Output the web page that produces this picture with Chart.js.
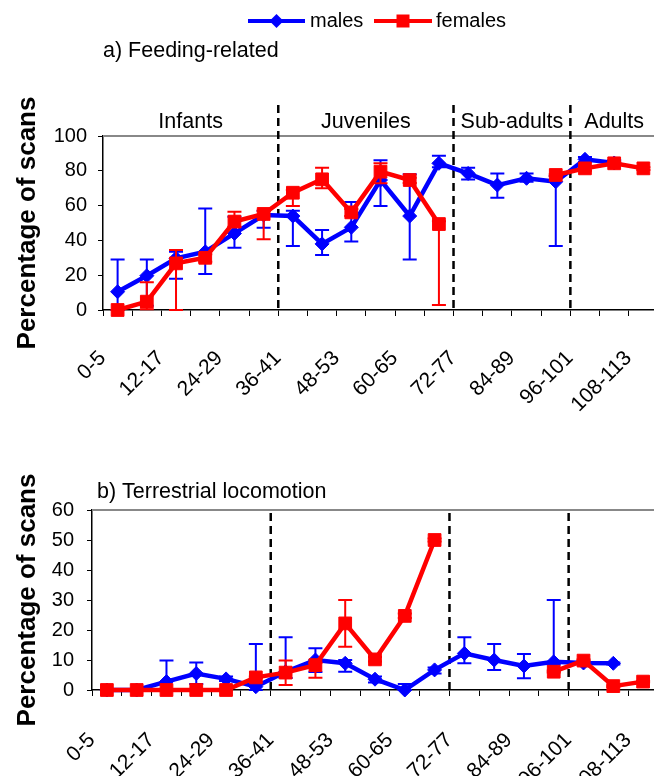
<!DOCTYPE html>
<html>
<head>
<meta charset="utf-8">
<script src="https://cdn.jsdelivr.net/npm/chart.js@4.4.0/dist/chart.umd.min.js"></script>
<style>
  html, body { margin: 0; padding: 0; background: #fff; overflow: hidden; }
  #wrap { position: relative; width: 654px; height: 776px; overflow: hidden; }
  canvas { position: absolute; left: 0; }
  #feedChart { top: 0; }
  #locoChart { top: 430px; }
</style>
</head>
<body>
<div id="wrap">
  <canvas id="feedChart" width="668" height="420"></canvas>
  <canvas id="locoChart" width="668" height="346"></canvas>
</div>
<script>
// age classes in months
const ageClasses = ['0-5', '6-11', '12-17', '18-23', '24-29', '30-35', '36-41', '42-47', '48-53', '54-59',
    '60-65', '66-71', '72-77', '78-83', '84-89', '90-95', '96-101', '102-107', '108-113'];
const stageNames = ['Infants', 'Juveniles', 'Sub-adults', 'Adults'];
const stageStarts = [0, 6, 12, 16];

// a) Feeding-related
const feedMales      = [10.5, 19.7, 29.7, 33.5, 44.0, 54.6, 54.0, 38.0, 47.5, 74.7, 54.0, 84.3, 78.5, 71.8, 75.7, 73.7, 86.6, 84.5, null];
const feedMalesHigh  = [29.0, 29.0, 33.5, 58.4, 53.6, 57.0, 57.0, 46.0, 62.0, 86.0, 78.0, 88.7, 81.8, 78.5, 78.5, 77.0, 88.0, 86.0, null];
const feedMalesLow   = [0.0, 2.5, 18.0, 20.7, 35.8, 47.3, 36.8, 31.6, 39.3, 59.8, 29.0, 82.0, 75.0, 64.5, 73.7, 36.8, 85.0, 83.0, null];
const feedFemales    = [0.0, 4.8, 26.8, 30.0, 50.8, 55.2, 67.4, 75.1, 56.1, 79.5, 74.7, 49.4, null, null, null, 77.6, 81.4, 84.3, 81.4];
const feedFemalesHigh = [0.0, 16.0, 34.5, 32.0, 56.5, 57.0, 69.0, 81.8, 58.0, 84.3, 76.0, 51.0, null, null, null, 78.0, 82.0, 85.0, 82.0];
const feedFemalesLow  = [0.0, 0.4, 0.0, 27.8, 47.9, 40.6, 59.8, 70.0, 54.0, 72.8, 73.0, 2.9, null, null, null, 77.0, 80.0, 83.5, 80.5];

// b) Terrestrial locomotion
const locoMales      = [0, 0, 2.8, 5.5, 3.7, 1.1, 6.1, 10.0, 8.9, 3.6, 0.0, 6.7, 12.2, 10.0, 8.0, 9.4, 9.0, 8.9, null];
const locoMalesHigh  = [0, 0, 9.8, 9.2, 4.5, 15.3, 17.6, 13.9, 10.0, 4.5, 2.0, 7.5, 17.6, 15.3, 12.0, 30.0, 9.5, 9.2, null];
const locoMalesLow   = [0, 0, 0.0, 2.0, 3.0, 0.0, 4.0, 6.0, 6.1, 2.5, 0.0, 5.5, 8.9, 6.7, 3.9, 8.5, 8.5, 8.5, null];
const locoFemales    = [0, 0, 0, 0, 0, 4.2, 5.8, 8.3, 22.2, 10.2, 24.7, 50.0, null, null, null, 6.1, 9.8, 1.3, 2.8];
const locoFemalesHigh = [0, 0, 0, 0, 0, 4.5, 9.8, 9.0, 30.0, 11.0, 25.5, 50.5, null, null, null, 6.5, 10.2, 1.6, 3.0];
const locoFemalesLow  = [0, 0, 0, 0, 0, 4.0, 1.7, 4.1, 14.4, 9.5, 24.0, 49.5, null, null, null, 5.8, 9.5, 1.0, 2.6];

const BLUE = '#0000ff';
const RED = '#ff0000';
const FONT = "'Liberation Sans', Arial, sans-serif";

Chart.defaults.font.family = FONT;
Chart.defaults.color = '#000';

// error bars, stage dividers, titles and legend
const decorPlugin = {
    id: 'decor',
    beforeDatasetsDraw(chart, args, opts) {
        const ctx = chart.ctx;
        const x = chart.scales.x;
        const area = chart.chartArea;
        ctx.save();
        // grey frame line on top
        ctx.strokeStyle = '#888';
        ctx.lineWidth = 2;
        ctx.beginPath();
        ctx.moveTo(area.left, area.top);
        ctx.lineTo(area.right + 10, area.top);
        ctx.stroke();
        // dashed stage boundaries
        ctx.strokeStyle = '#000';
        ctx.lineWidth = 2.5;
        ctx.setLineDash([8, 5]);
        stageStarts.slice(1).forEach(i => {
            const bx = (x.getPixelForValue(i - 1) + x.getPixelForValue(i)) / 2;
            ctx.beginPath();
            ctx.moveTo(bx, opts.dashTop);
            ctx.lineTo(bx, area.bottom);
            ctx.stroke();
        });
        ctx.restore();
    },
    beforeDatasetDraw(chart, args) {
        const ds = chart.data.datasets[args.index];
        if (!ds.errHigh) return;
        const ctx = chart.ctx;
        const y = chart.scales.y;
        ctx.save();
        ctx.strokeStyle = ds.borderColor;
        ctx.lineWidth = 2;
        args.meta.data.forEach((pt, i) => {
            if (ds.data[i] == null || ds.errHigh[i] == null) return;
            const yHi = y.getPixelForValue(ds.errHigh[i]);
            const yLo = y.getPixelForValue(ds.errLow[i]);
            ctx.beginPath();
            ctx.moveTo(pt.x, yHi);
            ctx.lineTo(pt.x, yLo);
            ctx.moveTo(pt.x - 7, yHi);
            ctx.lineTo(pt.x + 7, yHi);
            ctx.moveTo(pt.x - 7, yLo);
            ctx.lineTo(pt.x + 7, yLo);
            ctx.stroke();
        });
        ctx.restore();
    },
    afterDraw(chart, args, opts) {
        const ctx = chart.ctx;
        const x = chart.scales.x;
        const area = chart.chartArea;
        ctx.save();
        ctx.fillStyle = '#000';
        ctx.textBaseline = 'middle';
        ctx.textAlign = 'left';
        ctx.font = '21.5px ' + FONT;
        ctx.fillText(opts.title, opts.titleX, opts.titleY);

        if (opts.stages) {
            ctx.textAlign = 'center';
            const edges = stageStarts.map(i => i === 0 ? area.left : (x.getPixelForValue(i - 1) + x.getPixelForValue(i)) / 2);
            edges.push(area.right);
            stageNames.forEach((name, k) => {
                ctx.fillText(name, (edges[k] + edges[k + 1]) / 2, area.top - 14);
            });
        }

        if (opts.legend) {
            ctx.font = '20px ' + FONT;
            const ly = 21;
            const items = [
                { label: 'males', color: BLUE, x0: 248, x1: 305, shape: 'diamond', tx: 310 },
                { label: 'females', color: RED, x0: 374, x1: 432, shape: 'square', tx: 436 }
            ];
            items.forEach(it => {
                ctx.strokeStyle = it.color;
                ctx.fillStyle = it.color;
                ctx.lineWidth = 4;
                ctx.beginPath();
                ctx.moveTo(it.x0, ly);
                ctx.lineTo(it.x1, ly);
                ctx.stroke();
                const cx = (it.x0 + it.x1) / 2;
                ctx.beginPath();
                if (it.shape === 'diamond') {
                    ctx.moveTo(cx - 7, ly);
                    ctx.lineTo(cx, ly - 7);
                    ctx.lineTo(cx + 7, ly);
                    ctx.lineTo(cx, ly + 7);
                    ctx.closePath();
                } else {
                    ctx.rect(cx - 6.5, ly - 6.5, 13, 13);
                }
                ctx.fill();
                ctx.fillStyle = '#000';
                ctx.textAlign = 'left';
                ctx.fillText(it.label, it.tx, ly);
            });
        }
        ctx.restore();
    }
};

function makeChart(id, cfg) {
    const ctx = document.getElementById(id).getContext('2d');
    return new Chart(ctx, {
        type: 'line',
        data: {
            labels: ageClasses,
            datasets: [
                {
                    label: 'males',
                    data: cfg.males,
                    errHigh: cfg.malesHigh,
                    errLow: cfg.malesLow,
                    borderColor: BLUE,
                    backgroundColor: BLUE,
                    borderWidth: 4.5,
                    pointStyle: 'rectRot',
                    pointRadius: 7,
                    pointBorderWidth: 1,
                    spanGaps: false,
                    clip: false,
                    order: 1
                },
                {
                    label: 'females',
                    data: cfg.females,
                    errHigh: cfg.femalesHigh,
                    errLow: cfg.femalesLow,
                    borderColor: RED,
                    backgroundColor: RED,
                    borderWidth: 4.5,
                    pointStyle: 'rect',
                    pointRadius: 9,
                    pointBorderWidth: 1,
                    spanGaps: false,
                    clip: false,
                    order: 0
                }
            ]
        },
        options: {
            responsive: false,
            animation: false,
            events: [],
            layout: { padding: { top: cfg.padTop, right: 4, left: 0, bottom: 0 } },
            plugins: {
                legend: { display: false },
                tooltip: { enabled: false },
                decor: cfg.decor
            },
            scales: {
                x: {
                    type: 'category',
                    offset: true,
                    grid: { offset: true, drawOnChartArea: false, color: '#000', tickLength: 6, lineWidth: 1 },
                    border: { color: '#000', width: 1.5 },
                    ticks: {
                        autoSkip: false,
                        minRotation: 45,
                        maxRotation: 45,
                        labelOffset: -15,
                        padding: cfg.xPad,
                        font: { size: 21 },
                        callback(v, i) { return i % 2 === 0 ? this.getLabelForValue(v) : ''; }
                    },
                    afterFit(s) {
                        s.height = cfg.xHeight;
                        s.paddingLeft = 0;
                        s.paddingRight = 0;
                    }
                },
                y: {
                    min: 0,
                    max: cfg.yMax,
                    ticks: { stepSize: cfg.yStep, font: { size: 20 }, padding: cfg.yPad },
                    grid: { drawOnChartArea: false, color: '#000', tickLength: 5 },
                    border: { color: '#000', width: 1.5 },
                    title: {
                        display: true,
                        text: 'Percentage of scans',
                        font: { size: 26, weight: 'bold' },
                        padding: { top: 12, bottom: 0 }
                    },
                    afterFit(s) { s.width = cfg.yWidth; }
                }
            }
        },
        plugins: [decorPlugin]
    });
}

makeChart('feedChart', {
    males: feedMales, malesHigh: feedMalesHigh, malesLow: feedMalesLow,
    females: feedFemales, femalesHigh: feedFemalesHigh, femalesLow: feedFemalesLow,
    yMax: 100, yStep: 20, padTop: 136, xHeight: 110, yWidth: 103, xPad: 30, yPad: 11,
    decor: { title: 'a) Feeding-related', titleX: 103, titleY: 51, stages: true, legend: true, dashTop: 105 }
});

makeChart('locoChart', {
    males: locoMales, malesHigh: locoMalesHigh, malesLow: locoMalesLow,
    females: locoFemales, femalesHigh: locoFemalesHigh, femalesLow: locoFemalesLow,
    yMax: 60, yStep: 10, padTop: 80, xHeight: 86, yWidth: 92, xPad: 32, yPad: 13,
    decor: { title: 'b) Terrestrial locomotion', titleX: 97, titleY: 62, stages: false, legend: false, dashTop: 83 }
});
</script>
</body>
</html>
